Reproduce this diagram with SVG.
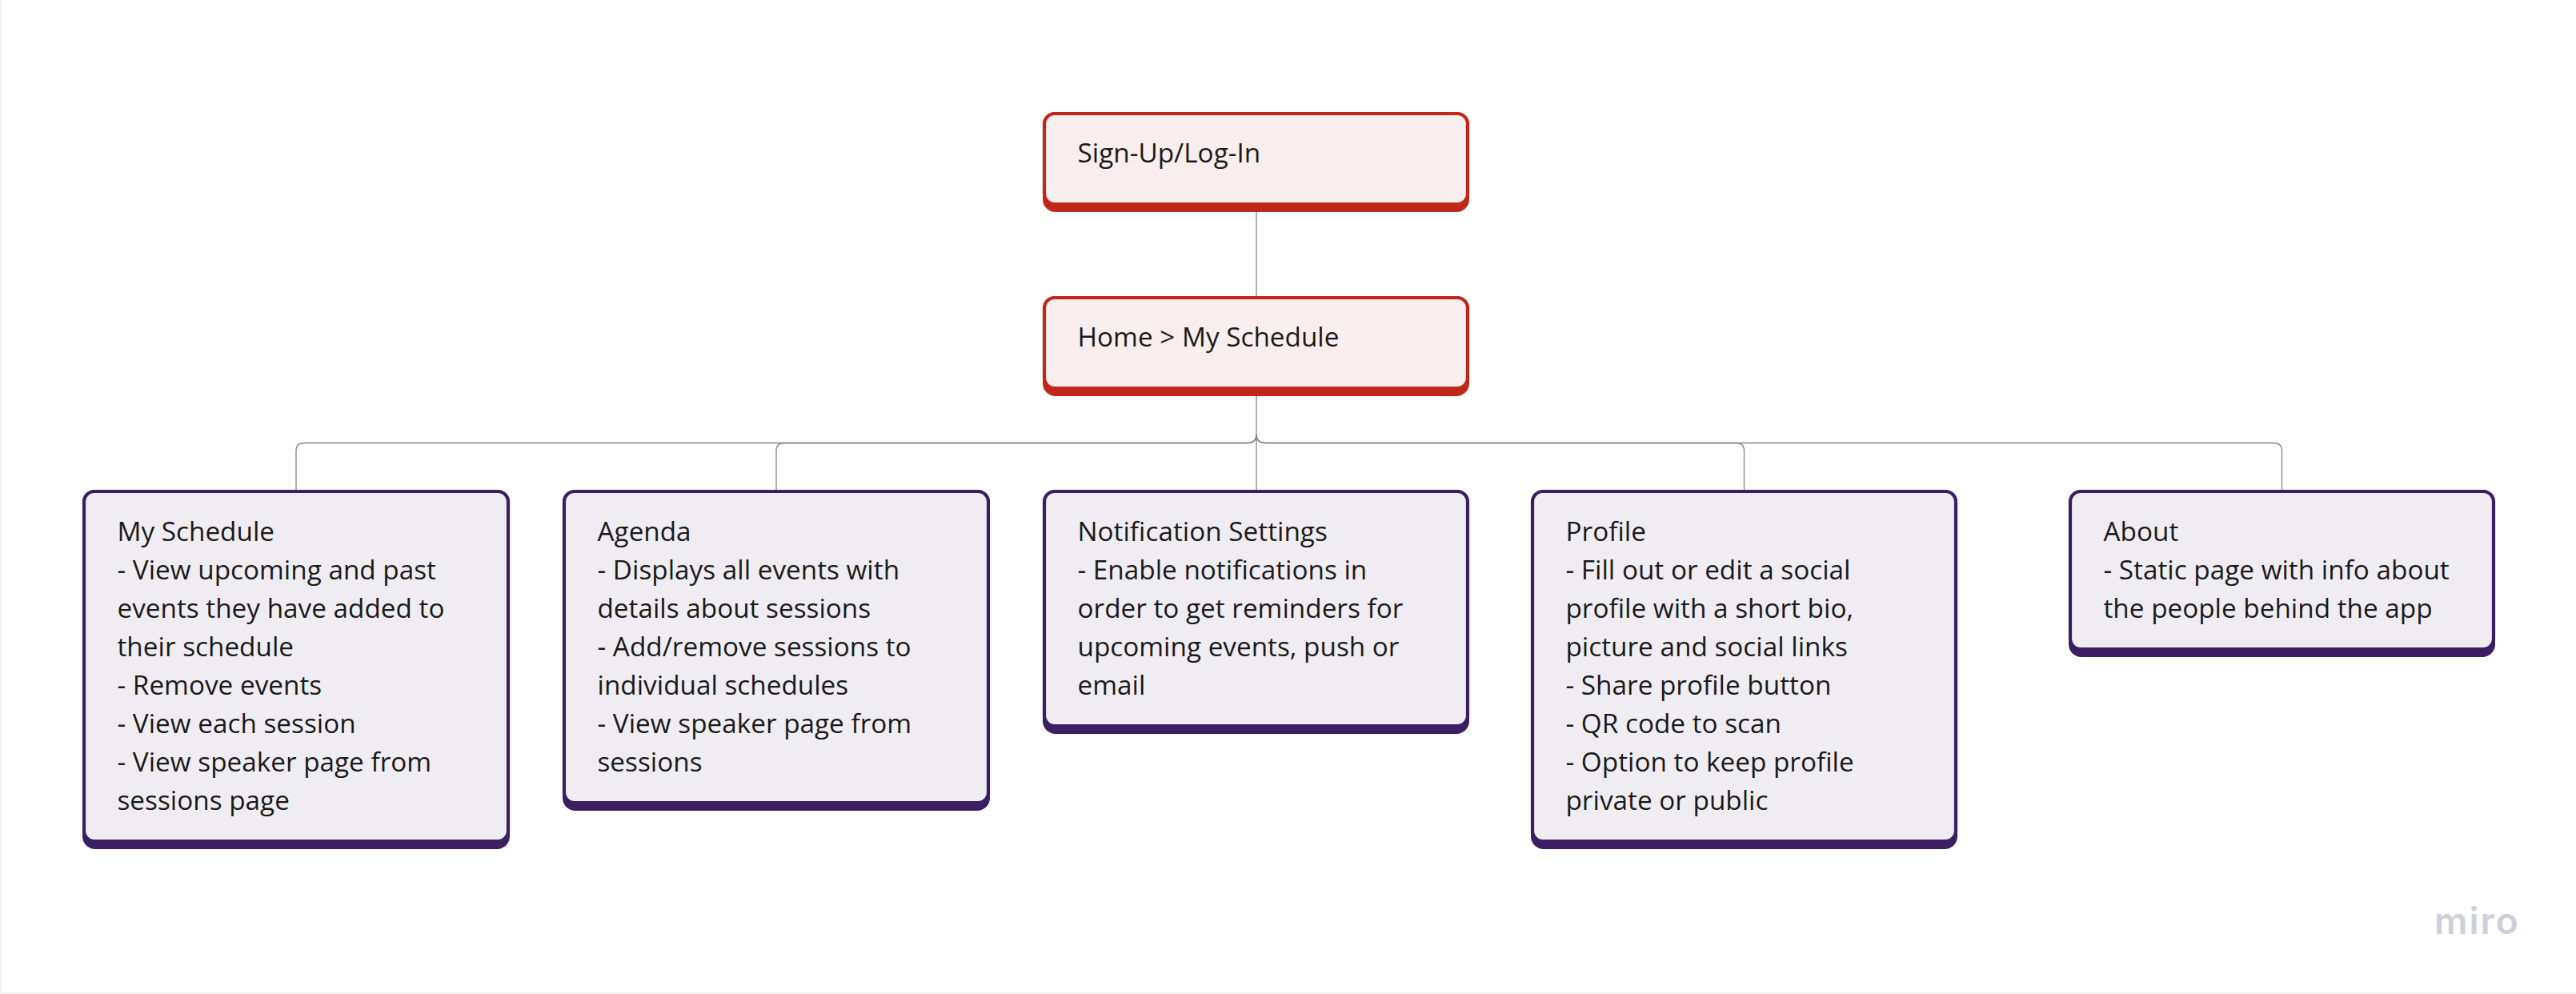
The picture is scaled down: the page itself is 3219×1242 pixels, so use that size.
<svg xmlns="http://www.w3.org/2000/svg" width="3219" height="1242" viewBox="0 0 3219 1242">
<style>
text{font-family:"Open Sans","Noto Sans","Liberation Sans",sans-serif;font-size:33.300px;fill:#1a1a1a}
.r .s{fill:#bf271b}.r .f{fill:#f8eeed;stroke:#bf271b;stroke-width:4.200}
.p .s{fill:#3a1f63}.p .f{fill:#efedf2;stroke:#3a1f63;stroke-width:4.200}
#connectors path{fill:none;stroke:#858585;stroke-width:1.300}
#miro text{font-family:Inter,sans-serif;font-size:46px;font-weight:600;fill:#cfcfdc;letter-spacing:2px}
</style>
<rect width="3219" height="1242" fill="#fff"/>
<path d="M.75 0V1241H3219" stroke="#f0f0f0" stroke-width="1.500" fill="none"/>
<g id="connectors">
<path d="M1570 265V370"/>
<path d="M1570 495V612"/>
<path d="M1570 543Q1570 553.500 1559 553.500H380Q370 553.500 370 563.500V612"/>
<path d="M1570 543Q1570 553.500 1559 553.500H980Q970 553.500 970 563.500V612"/>
<path d="M1570 543Q1570 553.500 1581 553.500H2169.500Q2179.500 553.500 2179.500 563.500V612"/>
<path d="M1570 543Q1570 553.500 1581 553.500H2841.500Q2851.500 553.500 2851.500 563.500V612"/>
</g>
<g id="signup" class="r"><rect class="s" x="1303" y="140" width="533" height="125" rx="16"/><rect class="f" x="1305" y="142" width="529" height="113" rx="13"/><text x="1346.500" y="203">Sign-Up/Log-In</text></g>
<g id="home" class="r"><rect class="s" x="1303" y="370" width="533" height="125" rx="16"/><rect class="f" x="1305" y="372" width="529" height="113" rx="13"/><text x="1346.500" y="433">Home &gt; My Schedule</text></g>
<g id="myschedule" class="p"><rect class="s" x="103" y="612" width="534" height="449" rx="16"/><rect class="f" x="105" y="614" width="530" height="437" rx="13"/>
<text x="146.500" y="675.500">My Schedule</text><text x="146.500" y="723.500">- View upcoming and past</text><text x="146.500" y="771.500">events they have added to</text><text x="146.500" y="819.500">their schedule</text><text x="146.500" y="867.500">- Remove events</text><text x="146.500" y="915.500">- View each session</text><text x="146.500" y="963.500">- View speaker page from</text><text x="146.500" y="1011.500">sessions page</text></g>
<g id="agenda" class="p"><rect class="s" x="703" y="612" width="534" height="401" rx="16"/><rect class="f" x="705" y="614" width="530" height="389" rx="13"/>
<text x="746.500" y="675.500">Agenda</text><text x="746.500" y="723.500">- Displays all events with</text><text x="746.500" y="771.500">details about sessions</text><text x="746.500" y="819.500">- Add/remove sessions to</text><text x="746.500" y="867.500">individual schedules</text><text x="746.500" y="915.500">- View speaker page from</text><text x="746.500" y="963.500">sessions</text></g>
<g id="notifications" class="p"><rect class="s" x="1303" y="612" width="533" height="305" rx="16"/><rect class="f" x="1305" y="614" width="529" height="293" rx="13"/>
<text x="1346.500" y="675.500">Notification Settings</text><text x="1346.500" y="723.500">- Enable notifications in</text><text x="1346.500" y="771.500">order to get reminders for</text><text x="1346.500" y="819.500">upcoming events, push or</text><text x="1346.500" y="867.500">email</text></g>
<g id="profile" class="p"><rect class="s" x="1913" y="612" width="533" height="449" rx="16"/><rect class="f" x="1915" y="614" width="529" height="437" rx="13"/>
<text x="1956.500" y="675.500">Profile</text><text x="1956.500" y="723.500">- Fill out or edit a social</text><text x="1956.500" y="771.500">profile with a short bio,</text><text x="1956.500" y="819.500">picture and social links</text><text x="1956.500" y="867.500">- Share profile button</text><text x="1956.500" y="915.500">- QR code to scan</text><text x="1956.500" y="963.500">- Option to keep profile</text><text x="1956.500" y="1011.500">private or public</text></g>
<g id="about" class="p"><rect class="s" x="2585" y="612" width="533" height="209" rx="16"/><rect class="f" x="2587" y="614" width="529" height="197" rx="13"/>
<text x="2628.500" y="675.500">About</text><text x="2628.500" y="723.500">- Static page with info about</text><text x="2628.500" y="771.500">the people behind the app</text></g>
<g id="miro"><text x="3042" y="1167">miro</text></g>
</svg>
